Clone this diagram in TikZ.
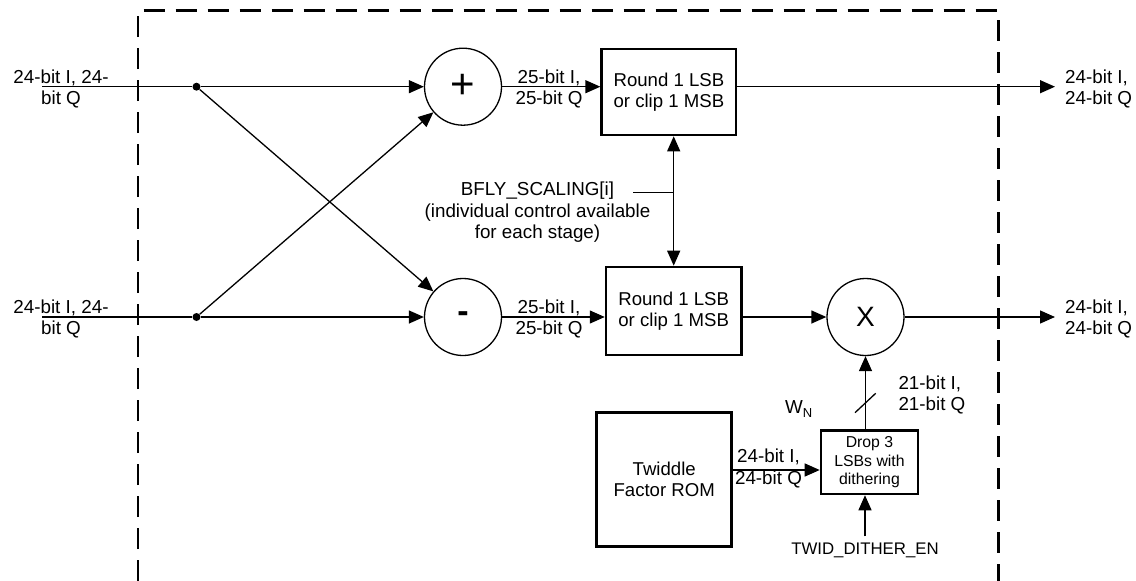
\documentclass[tikz,border=0pt]{standalone}
\usepackage{fontspec}
\setmainfont{Liberation Sans}
\usetikzlibrary{arrows.meta}

\begin{document}
\begin{tikzpicture}[x=1pt,y=-1pt,
  lbl/.style={font=\fontsize{18.8}{21.5}\selectfont, align=center, inner sep=0pt},
  blk/.style={draw, line width=2.6pt, align=center, inner sep=0pt, font=\fontsize{18.6}{21}\selectfont},
  opnode/.style={draw, circle, line width=1.3pt, minimum size=77pt, inner sep=0pt},
  wire/.style={line width=1.3pt},
  sig/.style={wire, -{Triangle[length=15pt,width=13pt]}},
  dot/.style={circle, fill, inner sep=0pt, minimum size=8pt}]
  \useasboundingbox (0,0) rectangle (1136,581);
  \draw[line width=2.6pt, dash pattern=on 21pt off 11pt] (138,581) -- (138,10.7) -- (998.3,10.7) -- (998.3,581);

  % inputs and split points
  \coordinate (inA) at (42,86.7);
  \coordinate (inB) at (42,317);
  \node[lbl] (inAlbl) at (61,89) {24-bit I, 24-\\bit Q};
  \node[lbl] (inBlbl) at (61,319) {24-bit I, 24-\\bit Q};
  \node[dot] (dotA) at (196.5,86.7) {};
  \node[dot] (dotB) at (196.5,317) {};

  % butterfly
  \node[opnode, font=\fontsize{42}{42}\selectfont] (add) at (463,86.7) {+};
  \node[opnode, font=\fontsize{34}{34}\selectfont\bfseries] (sub) at (463,317) {-};
  \node[blk, minimum width=134.5pt, minimum height=86pt] (rndA) at (668.9,92) {Round 1 LSB\\or clip 1 MSB};
  \node[blk, minimum width=135.3pt, minimum height=88pt] (rndB) at (673.7,311) {Round 1 LSB\\or clip 1 MSB};
  \node[opnode, font=\fontsize{28}{28}\selectfont] (mult) at (865.5,317) {X};

  \draw[wire] (inA) -- (dotA);
  \draw[wire] (inB) -- (dotB);
  \draw[sig] (dotA) -- (add);
  \draw[sig] (dotB) -- (sub);
  \draw[sig] (dotA) -- (sub);
  \draw[sig] (dotB) -- (add);

  \node[lbl] (addlbl) at (549,89) {25-bit I,\\25-bit Q};
  \node[lbl] (sublbl) at (549,319) {25-bit I,\\25-bit Q};
  \draw[sig] (add.east) -- (add.east -| rndA.west);
  \draw[sig] (sub.east) -- (sub.east -| rndB.west);
  \draw[sig] (sub.east -| rndB.east) -- (mult.west);

  % outputs
  \coordinate (outA) at (1055,86.7);
  \coordinate (outB) at (1055,317);
  \draw[sig] (add.east -| rndA.east) -- (outA);
  \draw[sig] (mult.east) -- (outB);
  \node[lbl, anchor=west, align=left] (outAlbl) at (1065,89) {24-bit I,\\24-bit Q};
  \node[lbl, anchor=west, align=left] (outBlbl) at (1065,319) {24-bit I,\\24-bit Q};

  % scaling control
  \draw[wire, {Triangle[length=15pt,width=13pt]}-{Triangle[length=15pt,width=13pt]}] (rndB.north |- rndA.south) -- (rndB.north);
  \node[lbl] (bflylbl) at (537.5,212.5) {BFLY\_SCALING[i]\\(individual control available\\for each stage)};
  \coordinate (bflytap) at (633,192.3);
  \draw[wire] (bflytap) -- (bflytap -| rndB.north);

  % twiddle path
  \node[blk, minimum width=135pt, minimum height=134.5pt] (rom) at (664.2,479.5) {Twiddle\\Factor ROM};
  \node[blk, minimum width=97pt, minimum height=63.3pt, font=\fontsize{15.8}{18.5}\selectfont] (drop) at (869.5,462.3) {Drop 3\\LSBs with\\dithering};
  \draw[sig] (rom.east |- 0,470) -- (drop.west |- 0,470);
  \node[lbl] (romlbl) at (768.5,468.5) {24-bit I,\\24-bit Q};
  \draw[sig] (drop.north -| mult) -- (mult.south);
  \draw[wire] (855,412.7) -- (875.7,393.3);
  \node[lbl, anchor=west] (wn) at (785,409) {W\raisebox{-0.35ex}{\fontsize{13}{13}\selectfont N}};
  \node[lbl, anchor=west, align=left] (droplbl) at (898.3,395) {21-bit I,\\21-bit Q};
  \node[lbl, font=\fontsize{16.8}{20}\selectfont] (dithen) at (865,550) {TWID\_DITHER\_EN};
  \draw[sig, shorten <=6pt] (dithen.north) -- (dithen.north |- drop.south);
\end{tikzpicture}
\end{document}
